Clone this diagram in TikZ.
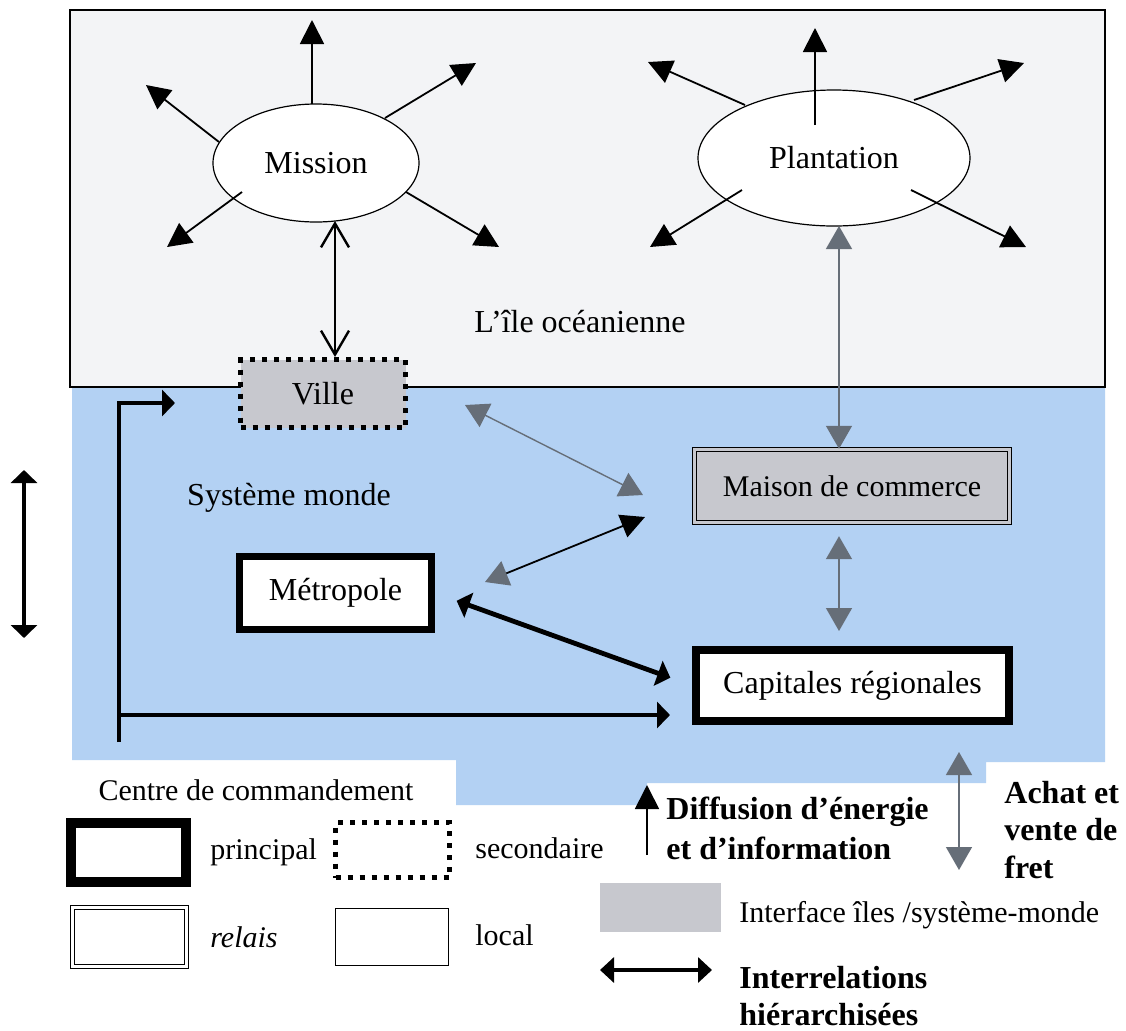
\documentclass[tikz,border=0pt]{standalone}
\usepackage{fontspec}
\setmainfont{Liberation Serif}
\usetikzlibrary{arrows.meta,calc,shapes.geometric}
\definecolor{seablue}{RGB}{179,209,243}
\definecolor{islandbg}{RGB}{243,244,246}
\definecolor{ifacegray}{RGB}{199,200,206}
\definecolor{tipgray}{RGB}{102,110,120}
\begin{document}
\begin{tikzpicture}[x=0.5pt,y=-0.5pt,
  txt/.style={font=\fontsize{15}{18}\selectfont, inner sep=0pt},
  bigtxt/.style={font=\fontsize{16}{19}\selectfont, inner sep=0pt},
  ltxt/.style={txt, anchor=west},
  btxt/.style={font=\bfseries\fontsize{16}{19}\selectfont, inner sep=0pt, anchor=west},
  place/.style={ellipse, draw, line width=0.6pt, fill=white, inner sep=0pt, font=\fontsize{16}{19}\selectfont},
  boxtext/.style={rectangle, inner sep=0pt, font=\fontsize{16}{19}\selectfont},
  principalbox/.style={boxtext, draw, fill=white},
  secondbox/.style={boxtext, draw, line width=2.5pt, dash pattern=on 2.5pt off 3.5pt},
  relaisbox/.style={boxtext, draw, double, double distance=1.4pt, line width=0.6pt},
  localbox/.style={boxtext, draw, line width=0.6pt, fill=white},
  gtip/.tip={Triangle[length=11.5pt,width=13pt,color=tipgray,fill=tipgray]},
  btip/.tip={Triangle[length=12pt,width=12pt]},
  ray/.style={-btip, line width=0.9pt},
  graylink/.style={gtip-gtip, draw=tipgray, line width=0.7pt},
  openlink/.style={{Straight Barb[length=12pt,width=14pt]}-{Straight Barb[length=12pt,width=14pt]}, line width=1.2pt},
  heavy/.style={line width=2pt, line join=miter},
  htip/.tip={Triangle[length=6.5pt,width=13pt]}
]
\useasboundingbox (0,0) rectangle (1126,1030);

% backgrounds
\fill[seablue] (72,387) -- (1105,387) -- (1105,762) -- (986,762) -- (986,783)
  -- (647,783) -- (647,805) -- (456,805) -- (456,760) -- (72,760) -- cycle;
\draw[fill=islandbg, line width=0.8pt] (70,10) rectangle (1105,387);

% island places
\node[place, minimum width=103pt, minimum height=59pt] (mission) at (316,163) {Mission};
\node[place, minimum width=136pt, minimum height=68pt] (plantation) at (834,158) {Plantation};

% command centres
\node[boxtext, fill=ifacegray, draw, line width=2.5pt, dash pattern=on 2.5pt off 3.5pt,
      minimum width=82.5pt, minimum height=34pt] (ville) at (323,393.5) {Ville};
\node[boxtext, fill=ifacegray, draw, double=ifacegray, double distance=1.2pt, line width=0.6pt,
      font=\fontsize{15}{18}\selectfont,
      minimum width=157.6pt, minimum height=36.6pt] (maison) at (852,486) {Maison de commerce};
\node[principalbox, line width=4pt, minimum width=156.5pt, minimum height=35.5pt] (capitales) at (852.5,685.5) {Capitales régionales};
\node[principalbox, line width=3.5pt, minimum width=96pt, minimum height=36.5pt] (metropole) at (335.5,593) {Métropole};

% labels
\node[bigtxt] (ile) at (580,322) {L’île océanienne};
\node[bigtxt] (monde) at (289,498) {Système monde};

% rays from Mission
\coordinate (m1a) at (312,104); \coordinate (m1b) at (312,20);
\coordinate (m2a) at (219,142); \coordinate (m2b) at (146,85);
\coordinate (m3a) at (385,118); \coordinate (m3b) at (476,63);
\coordinate (m4a) at (242,192); \coordinate (m4b) at (167,247);
\coordinate (m5a) at (406,192); \coordinate (m5b) at (499,247);
\foreach \i in {1,...,5} {\draw[ray] (m\i a) -- (m\i b);}
% rays from Plantation
\coordinate (p1a) at (815,125); \coordinate (p1b) at (815,28);
\coordinate (p2a) at (745,105); \coordinate (p2b) at (648,62);
\coordinate (p3a) at (914,100); \coordinate (p3b) at (1024,63);
\coordinate (p4a) at (742,190); \coordinate (p4b) at (650,247);
\coordinate (p5a) at (911,190); \coordinate (p5b) at (1026,247);
\foreach \i in {1,...,5} {\draw[ray] (p\i a) -- (p\i b);}

% links
\coordinate (mv) at (335,221);
\draw[openlink] (mv) -- (mv |- ville.north);
\coordinate (pm) at (839,226);
\draw[graylink] (pm) -- (pm |- maison.north);
\draw[graylink, shorten <=6.5pt, shorten >=7.5pt] (maison.south -| pm) -- (capitales.north -| pm);
\coordinate (vm1) at (465,405); \coordinate (vm2) at (643,495);
\draw[graylink] (vm1) -- (vm2);
\coordinate (bm1) at (645,517); \coordinate (bm2) at (485,582);
\draw[gtip-btip, line width=0.9pt] (bm2) -- (bm1);
\draw[htip-htip, line width=2.4pt, shorten <=11.5pt, shorten >=11.5pt] (metropole.east) -- (capitales.west);

% bracket
\coordinate (brb) at (119,742); \coordinate (brt) at (119,403); \coordinate (brv) at (175,403);
\coordinate (brm) at (119,715); \coordinate (brc) at (670,715);
\draw[heavy, -htip] (brb) -- (brt) -- (brv);
\draw[heavy, -htip] (brm) -- (brc);

% left double arrow
\coordinate (la1) at (24,470); \coordinate (la2) at (24,638);
\draw[heavy, htip-htip] (la1) -- (la2);

% legend
\node[txt] (centre) at (256,790) {Centre de commandement};
\node[principalbox, line width=5pt, minimum width=57.5pt, minimum height=29.5pt] (lgprin) at (128.5,852.5) {};
\node[ltxt] (tprin) at (210,852) {principal};
\node[secondbox, minimum width=57pt, minimum height=27.5pt] (lgsec) at (392.5,850) {};
\node[ltxt] (tsec) at (475,848) {secondaire};
\node[relaisbox, minimum width=56.8pt, minimum height=29.3pt] (lgrel) at (129.5,937) {};
\node[ltxt, font=\itshape\fontsize{15}{18}\selectfont] (trel) at (210,937) {relais};
\node[localbox, minimum width=56.5pt, minimum height=28.5pt] (lgloc) at (392,937) {};
\node[ltxt] (tloc) at (475,935) {local};

\coordinate (df1) at (647,855); \coordinate (df2) at (647,785);
\draw[-btip, line width=0.9pt] (df1) -- (df2);
\node[btxt] (tdif1) at (666,812) {Diffusion d’énergie};
\node[btxt] (tdif2) at (666,848) {et d’information};

\coordinate (ac1) at (959,752); \coordinate (ac2) at (959,870);
\draw[graylink] (ac1) -- (ac2);
\node[btxt] (tach1) at (1004,793) {Achat et};
\node[btxt] (tach2) at (1004,830) {vente de};
\node[btxt] (tach3) at (1004,867) {fret};

\node[rectangle, fill=ifacegray, inner sep=0pt, minimum width=60.5pt, minimum height=24.5pt] (lgif) at (660.5,907.5) {};
\node[ltxt] (tif) at (739,915) {Interface îles /système-monde};

\coordinate (ir1) at (600,970); \coordinate (ir2) at (712,970);
\draw[heavy, {Triangle[length=7pt,width=12.5pt]}-{Triangle[length=7pt,width=12.5pt]}] (ir1) -- (ir2);
\node[btxt] (tir1) at (739,978) {Interrelations};
\node[btxt] (tir2) at (739,1015) {hiérarchisées};
\end{tikzpicture}
\end{document}
